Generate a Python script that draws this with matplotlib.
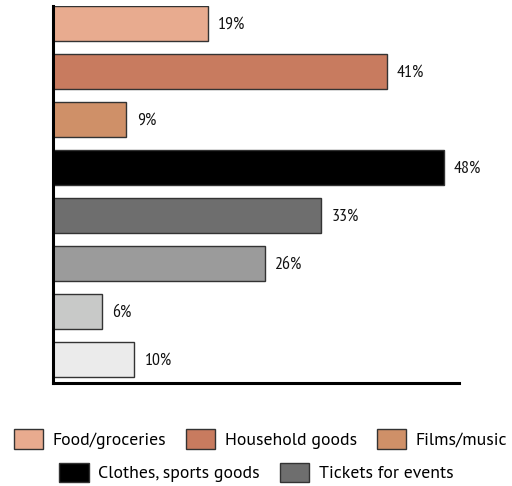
import matplotlib
matplotlib.use("Agg")
import matplotlib.pyplot as plt
from matplotlib.patches import Patch

categories = ["Food/groceries", "Household goods", "Films/music",
              "Clothes, sports goods", "Tickets for events", "", "", ""]
values = [19, 41, 9, 48, 33, 26, 6, 10]
labels = ["19%", "41%", "9%", "48%", "33%", "26%", "6%", "10%"]
colors = ["#E8AB8F", "#C87B5F", "#CF9068", "#000000",
          "#6E6E6E", "#9B9B9B", "#C8C9C8", "#EBEBEB"]

fig = plt.figure(figsize=(5.12, 4.86), dpi=100)
ax = fig.add_axes([53/512, 1-383/486, 406/512, 377/486])

ypos = list(range(len(values)))
ax.barh(ypos, values, height=0.73, color=colors, edgecolor="#333333", linewidth=1.0)
ax.set_xlim(0, 49.9)
ax.set_ylim(7.5, -0.365)

for y, v, t in zip(ypos, values, labels):
    ax.annotate(t, xy=(v, y), xytext=(7.5, -1), textcoords="offset points",
                ha="left", va="center", fontsize=12.8, fontweight="normal",
                family=["PT Sans Narrow", "Archivo Narrow", "DejaVu Sans"],
                color="#111111")

for s in ["top", "right"]:
    ax.spines[s].set_visible(False)
ax.spines["left"].set_linewidth(2.2)
ax.spines["bottom"].set_linewidth(2.2)
ax.set_xticks([])
ax.set_yticks([])

handles = [Patch(facecolor=c, edgecolor="#333333", linewidth=1.0) for c in colors[:5]]
common = dict(frameon=False, handlelength=1.65, handleheight=1.3,
              handletextpad=0.54, columnspacing=1.12, borderpad=0, borderaxespad=0,
              prop={"family": ["PT Sans", "Open Sans", "DejaVu Sans"], "size": 12.8,
                    "weight": "normal"})
leg1 = fig.legend(handles[:3], categories[:3], ncol=3, loc="center",
                  bbox_to_anchor=(260.5/512, 1-439/486), **common)
leg2 = fig.legend(handles[3:5], categories[3:5], ncol=2, loc="center",
                  bbox_to_anchor=(256.5/512, 1-472.5/486), **common)

fig.savefig("out.png", dpi=100)
